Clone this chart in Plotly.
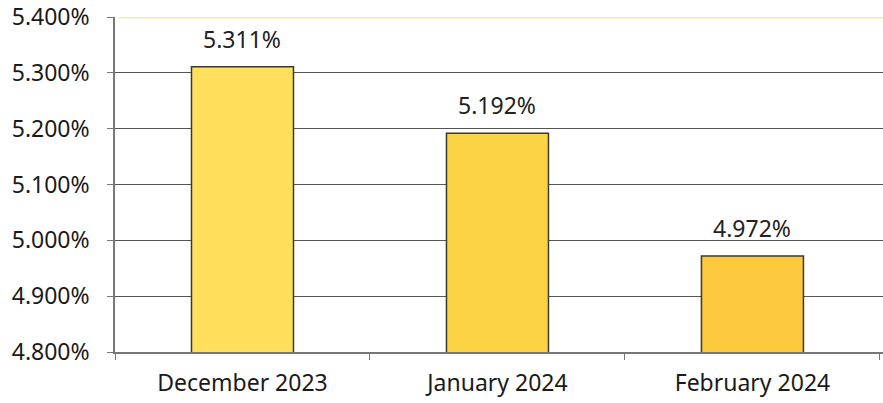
import plotly.graph_objects as go

categories = ["December 2023", "January 2024", "February 2024"]
values = [5.311, 5.192, 4.972]
labels = ["5.311%", "5.192%", "4.972%"]
bar_colors = ["#FFDF5C", "#FDD346", "#FCC93C"]
y_ticks = [4.8, 4.9, 5.0, 5.1, 5.2, 5.3, 5.4]
y_tick_text = ["4.800%", "4.900%", "5.000%", "5.100%", "5.200%", "5.300%", "5.400%"]

fig = go.Figure()
fig.add_trace(go.Bar(
    x=categories, y=values, width=0.40,
    marker=dict(color=bar_colors, line=dict(color="#3a3a2a", width=1.5)),
    hoverinfo="skip",
))

for c, v, t in zip(categories, values, labels):
    fig.add_annotation(x=c, y=v, text=t, showarrow=False, yanchor="bottom",
                       yshift=10, font=dict(family="Noto Sans", size=23, color="#222"))

# pale yellow top gridline
fig.add_shape(type="line", xref="paper", yref="y", x0=0.005, x1=1, y0=5.4, y1=5.4,
              line=dict(color="#F7EDA4", width=3))

fig.update_layout(
    width=883, height=403,
    margin=dict(l=115, r=0, t=17, b=51),
    plot_bgcolor="white", paper_bgcolor="white",
    showlegend=False, bargap=0.6,
    font=dict(family="Noto Sans", color="#1a1a1a"),
)
fig.update_yaxes(
    range=[4.8, 5.4], tickvals=y_ticks, ticktext=y_tick_text, automargin=False,
    ticklabeloverflow="allow",
    showgrid=True, gridcolor="#555555", gridwidth=1.3,
    showline=True, linecolor="#777", linewidth=1.5,
    ticks="outside", ticklen=6, tickcolor="#777",
    tickfont=dict(size=23, color="#1a1a1a"), ticklabelstandoff=13,
)
fig.update_xaxes(
    range=[-0.5, 2.512], automargin=False, ticklabeloverflow="allow",
    showline=True, linecolor="#777", linewidth=1.5,
    ticks="outside", tickson="boundaries", ticklen=6, tickcolor="#777",
    tickfont=dict(size=23, color="#1a1a1a"), ticklabelstandoff=10,
)

fig.write_html("out.html", config={"displayModeBar": False},
               post_script="document.body.style.margin='0';")
